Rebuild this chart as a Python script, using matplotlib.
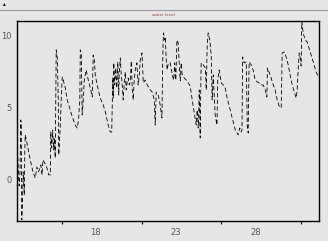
import matplotlib
matplotlib.use("Agg")
import matplotlib.pyplot as plt

# time (days) and value
day = [13.11, 13.16, 13.20, 13.25, 13.30, 13.33, 13.36, 13.40, 13.45, 13.52,
       13.55, 13.58, 13.71, 13.89, 14.08, 14.21, 14.31, 14.41, 14.56, 14.63,
       14.69, 14.80, 14.94, 15.05, 15.15, 15.18, 15.24, 15.30, 15.37, 15.41,
       15.46, 15.52, 15.59, 15.65, 15.68, 15.77, 15.84, 15.90, 15.96, 16.09,
       16.21, 16.40, 16.53, 16.71, 16.84, 16.93, 17.00, 17.03, 17.09, 17.15,
       17.22, 17.28, 17.40, 17.53, 17.66, 17.78, 17.84, 17.91, 17.97, 18.09,
       18.28, 18.47, 18.60, 18.78, 18.91, 19.00, 19.03, 19.07, 19.10, 19.13,
       19.19, 19.25, 19.32, 19.38, 19.44, 19.47, 19.54, 19.60, 19.66, 19.72,
       19.79, 19.85, 19.91, 19.97, 20.04, 20.10, 20.16, 20.23, 20.29, 20.35,
       20.41, 20.48, 20.58, 20.66, 20.73, 20.79, 20.90, 20.98, 21.10, 21.23,
       21.42, 21.54, 21.67, 21.73, 21.79, 21.92, 22.04, 22.15, 22.19, 22.22,
       22.25, 22.33, 22.36, 22.42, 22.48, 22.55, 22.67, 22.80, 22.89, 22.95,
       23.02, 23.09, 23.17, 23.24, 23.30, 23.36, 23.42, 23.55, 23.67, 23.80,
       23.92, 24.05, 24.18, 24.30, 24.36, 24.43, 24.49, 24.55, 24.58, 24.61,
       24.74, 24.87, 24.93, 24.99, 25.05, 25.15, 25.24, 25.30, 25.37, 25.49,
       25.60, 25.65, 25.74, 25.87, 25.99, 26.12, 26.24, 26.43, 26.62, 26.75,
       26.87, 26.93, 27.03, 27.12, 27.17, 27.21, 27.31, 27.44, 27.50, 27.56,
       27.59, 27.62, 27.75, 27.87, 28.00, 28.13, 28.25, 28.38, 28.50, 28.63,
       28.73, 28.77, 28.94, 29.13, 29.25, 29.38, 29.50, 29.63, 29.66, 29.69,
       29.82, 29.94, 30.07, 30.19, 30.32, 30.45, 30.57, 30.63, 30.70, 30.76,
       30.82, 30.88, 30.92, 31.01, 31.13, 31.26, 31.45, 31.64, 31.82, 31.97]

value = [1.60, 0.14, -0.42, 0.56, 4.17, 3.61, -2.78, -1.74, 0.56, -1.04,
         2.08, 3.13, 2.43, 1.39, 0.49, 0.14, 0.90, 0.56, 1.04, 0.35,
         1.39, 1.18, 0.83, 0.35, 0.35, 3.33, 2.22, 3.47, 2.08, 2.92,
         1.53, 9.03, 8.47, 5.56, 1.74, 3.68, 5.76, 7.15, 6.94, 6.39,
         5.56, 4.86, 4.38, 3.82, 3.61, 4.31, 5.56, 9.03, 8.82, 4.51,
         5.56, 6.94, 7.64, 6.94, 6.39, 5.76, 8.68, 8.33, 7.29, 6.60,
         5.69, 5.21, 4.72, 3.82, 3.33, 3.33, 4.86, 7.08, 5.69, 8.13,
         6.60, 7.78, 6.39, 8.19, 5.90, 7.36, 8.47, 7.29, 6.60, 5.56,
         6.81, 7.50, 6.25, 6.81, 7.08, 6.60, 6.81, 8.26, 6.25, 5.56,
         6.94, 7.64, 8.13, 6.60, 7.29, 8.33, 8.82, 6.74, 6.94, 6.60,
         6.25, 6.11, 5.56, 3.82, 6.11, 5.90, 5.21, 4.31, 7.64, 9.38,
         10.21, 9.72, 9.93, 8.33, 7.64, 8.13, 8.13, 7.29, 6.94, 8.13,
         6.94, 9.72, 9.51, 7.99, 6.88, 8.13, 7.29, 7.08, 6.94, 6.74,
         6.53, 5.56, 4.65, 3.82, 4.86, 3.61, 6.25, 2.92, 5.90, 8.13,
         7.99, 7.78, 6.25, 9.38, 10.21, 9.72, 8.68, 5.56, 7.29, 4.51,
         3.82, 6.94, 7.64, 6.74, 6.60, 6.39, 5.69, 4.86, 4.03, 3.47,
         3.26, 3.13, 3.61, 3.33, 3.47, 8.54, 8.13, 8.19, 3.82, 3.26,
         6.25, 8.19, 7.99, 7.64, 6.94, 6.81, 6.74, 6.60, 6.60, 6.25,
         5.76, 7.78, 7.29, 6.60, 6.25, 5.56, 5.14, 5.00, 6.94, 8.82,
         8.89, 8.54, 7.99, 7.29, 6.60, 6.11, 5.69, 6.25, 7.78, 8.82,
         8.47, 7.92, 11.00, 10.21, 9.72, 9.58, 8.89, 8.19, 7.50, 7.15]

tick_days = [15.875, 20.875, 25.875, 30.875]
label_days = [18, 23, 28]
label_text = ['18', '23', '28']
y_ticks = [0, 5, 10]

bg = '#e6e6e6'
fig = plt.figure(figsize=(3.28, 2.41), dpi=100, facecolor=bg)

# top strip with separator line and small icon
fig.add_artist(plt.Line2D([0, 1], [1 - 10 / 241, 1 - 10 / 241], color='#9a9a9a', lw=0.8))
fig.text(4 / 328, 1 - 4 / 241, '\u25b4', fontsize=4, color='black', ha='center', va='center')
fig.text(0.497, 1 - 15 / 241, 'water level', fontsize=3, color='#9b3b3b', ha='center', va='center')

ax = fig.add_axes([17.3 / 328, 1 - 221 / 241, (319 - 17.3) / 328, (221 - 20.7) / 241])
ax.set_facecolor(bg)
ax.plot(day, value, color='black', lw=0.6, linestyle=(0, (5, 3)))

ax.set_xlim(13.08, 32.0)
ax.set_ylim(-2.85, 11.06)

ax.set_xticks(tick_days)
ax.set_xticklabels([])
ax.set_xticks(label_days, minor=True)
ax.set_xticklabels(label_text, minor=True)
ax.tick_params(axis='x', which='major', length=2.5, width=0.8, direction='out')
ax.tick_params(axis='x', which='minor', length=0, pad=5, labelsize=6, labelcolor='#555555')

ax.set_yticks(y_ticks)
ax.set_yticklabels([str(v) for v in y_ticks])
ax.tick_params(axis='y', length=0, pad=4, labelsize=6, labelcolor='#555555')

for s in ax.spines.values():
    s.set_linewidth(1.0)
    s.set_color('black')

fig.savefig('out.png', dpi=100, facecolor=bg)
